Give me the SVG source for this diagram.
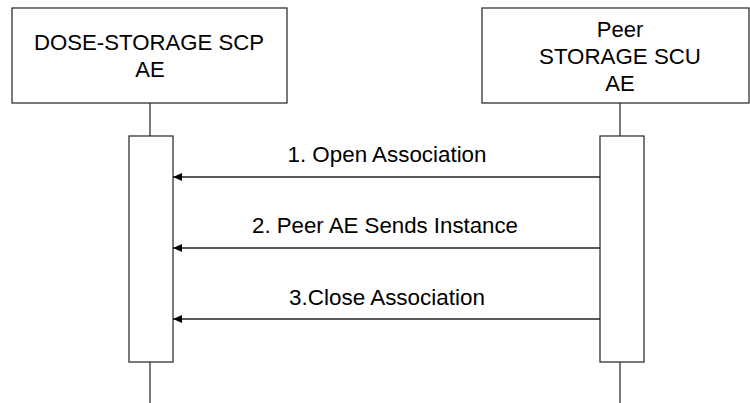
<svg xmlns="http://www.w3.org/2000/svg" width="750" height="403" viewBox="0 0 750 403">
<style>
.box{fill:#fff;stroke:#333;stroke-width:1.3}
.life{stroke:#333;stroke-width:1.3;fill:none}
.msg{stroke:#222;stroke-width:1.3;fill:none;marker-end:url(#arr)}
text{font-family:"Liberation Sans",Arial,sans-serif;fill:#000;text-anchor:middle}
.t{font-size:22px}
.m{font-size:22px}
</style>
<defs>
<marker id="arr" markerWidth="10" markerHeight="10" refX="9" refY="5" orient="auto" markerUnits="userSpaceOnUse">
<path d="M0,1 L9,5 L0,9 Z" fill="#000"/>
</marker>
</defs>
<rect width="750" height="403" fill="#fff"/>
<g id="lifelines">
<line class="life" x1="150" y1="103" x2="150" y2="403"/>
<line class="life" x1="620" y1="103" x2="620" y2="403"/>
</g>
<g id="scp">
<rect class="box" x="12" y="8" width="275" height="95"/>
<text class="t" x="149" y="50" textLength="230" lengthAdjust="spacingAndGlyphs">DOSE-STORAGE SCP</text>
<text class="t" x="150" y="77">AE</text>
</g>
<g id="scu">
<rect class="box" x="482" y="8" width="267" height="95"/>
<text class="t" x="620" y="37">Peer</text>
<text class="t" x="620" y="64" textLength="162" lengthAdjust="spacingAndGlyphs">STORAGE SCU</text>
<text class="t" x="620" y="91">AE</text>
</g>
<g id="scp-activation">
<rect class="box" x="129" y="136" width="44" height="226"/>
</g>
<g id="scu-activation">
<rect class="box" x="600" y="136" width="44" height="226"/>
</g>
<g id="connectors">
<line class="msg" x1="600" y1="177" x2="173" y2="177"/>
<line class="msg" x1="600" y1="248" x2="173" y2="248"/>
<line class="msg" x1="600" y1="319" x2="173" y2="319"/>
<text class="m" x="387" y="162" textLength="199" lengthAdjust="spacingAndGlyphs">1. Open Association</text>
<text class="m" x="385" y="233" textLength="266" lengthAdjust="spacingAndGlyphs">2. Peer AE Sends Instance</text>
<text class="m" x="387" y="305" textLength="196" lengthAdjust="spacingAndGlyphs">3.Close Association</text>
</g>
</svg>
